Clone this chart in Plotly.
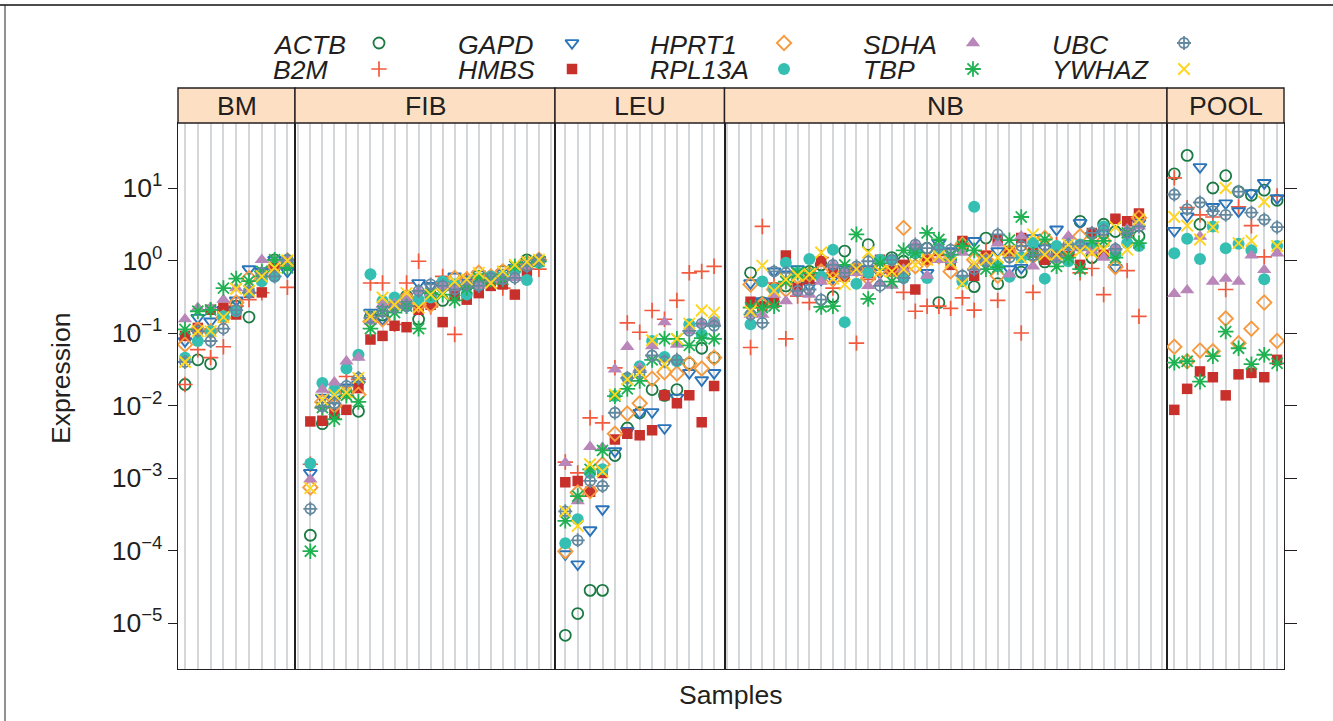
import plotly.graph_objects as go

W, H = 1333, 721
GENES = ["ACTB", "B2M", "GAPD", "HMBS", "HPRT1", "RPL13A", "SDHA", "TBP", "UBC", "YWHAZ"]
TISSUES = ["BM", "FIB", "LEU", "NB", "POOL"]

# All values below are log10(expression).
ACTB_BM = [-1.71, -1.37, -1.425, -0.70, -0.63, -0.78, -0.22, 0.01, -0.055]
B2M_BM = [-1.71, -1.23, -1.34, -1.19, -0.63, -0.54, -0.445, -0.10, -0.37]
GAPD_BM = [-1.11, -0.79, -0.84, -0.68, -0.55, -0.12, -0.15, 0.01, -0.15]
HMBS_BM = [-1.04, -0.93, -0.68, -0.65, -0.745, -0.445, -0.44, -0.10, -0.01]
HPRT1_BM = [-1.16, -0.95, -0.975, -0.79, -0.58, -0.24, -0.22, -0.08, 0.00]
RPL13A_BM = [-1.34, -1.11, -0.975, -0.77, -0.70, -0.42, -0.285, -0.225, 0.01]
SDHA_BM = [-0.81, -0.65, -0.65, -0.54, -0.38, -0.40, 0.01, 0.01, 0.01]
TBP_BM = [-0.95, -0.70, -0.68, -0.38, -0.25, -0.285, -0.15, 0.01, -0.10]
UBC_BM = [-1.40, -0.975, -1.11, -0.94, -0.685, -0.445, -0.17, -0.22, 0.01]
YWHAZ_BM = [-1.40, -0.975, -0.975, -0.78, -0.39, -0.42, -0.22, -0.10, 0.00]

ACTB_FIB = [-3.79, -2.25, -1.99, -1.82, -2.08, -0.78, -0.75, -0.62, -0.49, -0.81, -0.47, -0.55, -0.35, -0.35, -0.26, -0.26, -0.15, -0.12, 0.01, -0.01]
B2M_FIB = [-2.81, -2.03, -1.82, -1.60, -1.64, -0.31, -0.31, -0.88, -0.31, -0.01, -0.64, -0.22, -1.02, -0.26, -0.26, -0.31, -0.38, -0.12, -0.12, -0.12]
GAPD_FIB = [-2.93, -1.89, -1.92, -1.75, -1.71, -0.72, -0.81, -0.62, -0.54, -0.31, -0.35, -0.33, -0.22, -0.26, -0.19, -0.22, -0.17, -0.10, -0.03, 0.01]
HMBS_FIB = [-2.22, -2.21, -2.12, -2.06, -1.76, -1.09, -1.04, -0.90, -0.92, -0.68, -0.61, -0.85, -0.49, -0.54, -0.45, -0.35, -0.33, -0.47, -0.15, -0.01]
HPRT1_FIB = [-3.13, -1.95, -2.0, -1.82, -1.85, -0.84, -0.81, -0.62, -0.51, -0.61, -0.61, -0.33, -0.24, -0.26, -0.17, -0.22, -0.15, -0.12, -0.03, 0.01]
RPL13A_FIB = [-2.80, -1.69, -1.78, -1.49, -1.30, -0.19, -0.56, -0.51, -0.63, -0.54, -0.51, -0.29, -0.33, -0.47, -0.33, -0.22, -0.22, -0.15, -0.27, -0.03]
SDHA_FIB = [-3.02, -1.78, -1.68, -1.39, -1.34, -0.84, -0.61, -0.60, -0.54, -0.42, -0.45, -0.35, -0.38, -0.35, -0.35, -0.26, -0.24, -0.24, -0.08, 0.01]
TBP_FIB = [-4.01, -2.03, -2.19, -1.86, -1.95, -0.94, -0.70, -0.72, -0.63, -0.94, -0.45, -0.47, -0.55, -0.38, -0.24, -0.26, -0.26, -0.08, -0.03, -0.01]
UBC_FIB = [-3.425, -2.01, -1.97, -1.73, -1.62, -0.79, -0.70, -0.65, -0.63, -0.42, -0.33, -0.35, -0.40, -0.33, -0.35, -0.24, -0.26, -0.24, -0.08, 0.01]
YWHAZ_FIB = [-3.14, -1.92, -1.85, -1.82, -1.62, -0.77, -0.51, -0.61, -0.45, -0.65, -0.47, -0.46, -0.29, -0.26, -0.17, -0.31, -0.15, -0.06, -0.02, 0.01]

ACTB_LEU = [-5.17, -4.87, -4.55, -4.55, -2.69, -2.31, -2.10, -1.78, -1.86, -1.78, -1.42, -1.21, -1.34]
B2M_LEU = [-2.78, -2.93, -2.17, -2.24, -1.48, -0.86, -0.99, -0.69, -0.81, -0.55, -0.17, -0.15, -0.08]
GAPD_LEU = [-4.05, -4.19, -3.72, -3.43, -2.63, -2.35, -2.10, -2.09, -2.31, -1.89, -1.55, -1.65, -1.55]
HMBS_LEU = [-3.06, -3.04, -3.19, -2.93, -2.47, -2.39, -2.41, -2.34, -1.86, -1.97, -1.86, -2.23, -1.73]
HPRT1_LEU = [-4.01, -3.20, -3.18, -2.81, -2.39, -2.11, -1.97, -1.63, -1.54, -1.56, -1.42, -1.49, -1.34]
RPL13A_LEU = [-3.90, -3.57, -2.93, -2.88, -1.87, -1.62, -1.46, -1.11, -1.33, -1.39, -0.88, -1.02, -0.85]
SDHA_LEU = [-2.79, -3.32, -2.57, -2.58, -1.50, -1.19, -1.48, -1.18, -0.85, -1.16, -0.97, -0.87, -0.84]
TBP_LEU = [-3.59, -3.25, -2.88, -2.62, -1.87, -1.77, -1.66, -1.37, -1.08, -1.08, -1.17, -1.07, -1.08]
UBC_LEU = [-3.46, -3.86, -3.04, -3.11, -2.10, -1.62, -1.54, -1.31, -1.39, -1.37, -0.97, -0.87, -0.90]
YWHAZ_LEU = [-3.46, -3.66, -2.81, -2.91, -1.85, -1.64, -1.54, -1.10, -1.43, -1.08, -0.87, -0.69, -0.72]

ACTB_NB = [-0.17, -0.58, -0.38, -0.35, -0.26, -0.15, -0.06, -0.50, 0.13, -0.12, 0.22, -0.12, 0.04, -0.01, 0.11, 0.17, -0.58, 0.01, 0.17, -0.36, 0.31, -0.32, 0.11, -0.16, 0.08, -0.02, 0.08, 0.11, 0.54, 0.04, 0.50, 0.40, 0.38, 0.335]
B2M_NB = [-1.20, 0.47, -0.31, -1.08, -0.49, -0.58, 0.04, -0.38, -0.17, -1.14, -0.26, -0.12, -0.17, -0.44, -0.70, -0.63, -0.63, -0.66, -0.515, -0.685, 0.13, -0.55, 0.08, -1.0, -0.44, 0.08, 0.22, 0.08, -0.17, -0.11, -0.47, 0.08, -0.14, -0.77]
GAPD_NB = [-0.31, -0.56, -0.15, -0.19, -0.12, -0.35, -0.26, -0.24, -0.12, -0.12, -0.12, -0.17, -0.12, -0.22, 0.15, -0.17, 0.24, 0.13, 0.20, 0.27, 0.04, 0.13, -0.12, -0.10, 0.31, 0.17, 0.43, 0.11, 0.52, 0.20, 0.36, -0.10, 0.38, 0.52]
HMBS_NB = [-0.57, -0.63, -0.58, 0.07, -0.38, -0.26, -0.01, -0.17, -0.22, -0.12, -0.17, 0.01, -0.15, -0.06, -0.40, 0.01, 0.13, -0.06, 0.27, -0.21, 0.06, 0.29, 0.13, 0.31, 0.11, 0.01, 0.11, 0.06, -0.06, 0.38, 0.08, 0.575, 0.54, 0.65]
HPRT1_NB = [-0.33, -0.61, -0.40, -0.40, -0.22, -0.19, -0.15, -0.26, -0.17, -0.12, -0.24, -0.12, -0.12, 0.45, -0.08, 0.01, 0.06, -0.15, 0.22, 0.01, 0.01, -0.21, 0.11, 0.13, 0.06, 0.31, 0.06, 0.17, 0.335, 0.17, 0.27, -0.09, 0.38, 0.59]
RPL13A_NB = [-0.88, -0.29, -0.40, -0.03, -0.17, 0.02, -0.22, 0.15, -0.85, -0.32, -0.17, 0.01, 0.01, -0.24, 0.11, -0.24, 0.17, 0.01, -0.285, 0.74, -0.01, -0.08, -0.225, 0.04, 0.24, -0.25, 0.20, -0.01, 0.22, 0.17, 0.47, 0.08, 0.24, 0.20]
SDHA_NB = [-0.745, -0.745, -0.47, -0.56, -0.45, -0.47, -0.29, -0.06, -0.17, -0.17, -0.35, -0.31, -0.345, -0.12, 0.22, -0.21, 0.01, 0.01, 0.11, -0.10, -0.01, 0.235, -0.19, 0.335, -0.08, 0.11, 0.01, 0.335, 0.17, 0.13, 0.04, 0.17, 0.43, 0.47]
TBP_NB = [-0.65, -0.65, -0.63, -0.29, -0.17, -0.17, -0.64, -0.63, -0.06, 0.36, -0.53, -0.04, -0.29, 0.14, 0.11, 0.38, 0.29, 0.08, 0.20, 0.14, -0.12, -0.09, 0.28, 0.60, 0.08, 0.29, -0.08, 0.04, -0.12, 0.27, 0.27, 0.04, 0.38, 0.24]
UBC_NB = [-0.745, -0.86, -0.15, -0.17, -0.42, -0.40, -0.54, -0.06, -0.17, -0.08, -0.01, -0.35, 0.01, -0.24, 0.22, 0.17, 0.15, 0.15, -0.21, -0.12, -0.01, 0.36, 0.04, 0.20, 0.07, 0.15, 0.06, 0.22, 0.20, 0.38, 0.42, 0.16, 0.38, 0.47]
YWHAZ_NB = [-0.70, -0.07, -0.42, -0.26, -0.21, -0.19, 0.11, -0.25, -0.33, -0.12, 0.11, -0.15, -0.15, -0.12, -0.06, 0.01, 0.06, -0.03, -0.32, -0.04, 0.01, 0.04, 0.13, 0.04, 0.36, 0.08, 0.08, 0.22, 0.13, 0.11, 0.15, 0.46, 0.15, 0.565]

ACTB_POOL = [1.195, 1.45, 0.50, 1.00, 1.17, 0.95, 0.90, 0.97, 0.83]
B2M_POOL = [1.14, 0.73, 0.63, 0.60, -0.40, 0.74, 0.48, 0.05, 0.89]
GAPD_POOL = [0.41, 0.61, 1.29, 0.74, 0.79, 0.68, 0.93, 1.07, 0.86]
HMBS_POOL = [-2.06, -1.77, -1.53, -1.61, -1.86, -1.57, -1.55, -1.61, -1.37]
HPRT1_POOL = [-1.19, -1.39, -1.24, -1.25, -0.80, -1.14, -0.94, -0.58, -1.11]
RPL13A_POOL = [0.10, 0.30, 0.02, 0.47, 0.17, 0.23, 0.14, -0.26, 0.20]
SDHA_POOL = [-0.46, -0.41, 0.33, -0.29, -0.25, -0.29, 0.07, -0.13, 0.10]
TBP_POOL = [-1.41, -1.39, -1.67, -1.32, -0.98, -1.21, -1.43, -1.30, -1.42]
UBC_POOL = [0.91, 0.71, 0.80, 0.68, 0.63, 0.95, 0.66, 0.565, 0.46]
YWHAZ_POOL = [0.60, 0.48, 0.29, 0.46, 1.00, 0.24, 0.27, 0.81, 0.20]

G = globals()

# ---- styling and layout (pixels of the 1333x721 page) ----
INK = "#231f20"
FONT = "Liberation Sans"
FS = 26.6
STYLE = {
    "ACTB": [("circle-open", 11, 1.8, "#1a7a42")],
    "B2M": [("cross-thin-open", 11, 1.7, "#f15a3c")],
    "GAPD": [("triangle-down-open", 11.5, 1.9, "#2a74bb")],
    "HMBS": [("square", 10.5, 0, "#c8302c")],
    "HPRT1": [("diamond-open", 11, 1.9, "#f79a3e")],
    "RPL13A": [("circle", 12, 0, "#35bfb3")],
    "SDHA": [("triangle-up", 12.5, 0, "#b986ba")],
    "TBP": [("asterisk-open", 13, 1.8, "#1fb152")],
    "UBC": [("circle-open", 10, 1.8, "#64899f"), ("cross-thin-open", 10, 1.8, "#64899f")],
    "YWHAZ": [("x-thin-open", 11.5, 1.9, "#ffd51e")],
}
PANELS = {  # left, right, first slot px, slot spacing, slot count, first data slot
    "BM": (178, 295, 185.0, 12.8, 9, 1),
    "FIB": (295, 555, 298.3, 12.03, 22, 2),
    "LEU": (555, 724.5, 565.3, 12.4, 13, 1),
    "NB": (724.5, 1167, 727.0, 11.77, 38, 3),
    "POOL": (1167, 1284, 1174.3, 12.85, 9, 1),
}
TOP, BOTTOM, STRIP_TOP = 123, 669, 88
Y_RANGE = [1 - (BOTTOM - 188) / 72.5, 1 + (188 - TOP) / 72.5]
DECADES = [-5, -4, -3, -2, -1, 0, 1]
DEC_TEXT = [f"10<sup>{d}</sup>".replace("-", "\u2212") for d in DECADES]


def px(x):
    return x / W


def py(y):
    return 1 - y / H


fig = go.Figure()
layout = {}
shapes, annots = [], []
for i, t in enumerate(TISSUES, start=1):
    left, right, first, sp, n, off = PANELS[t]
    lo = 1 - (first - left) / sp
    hi = lo + (right - left) / sp
    sfx = "" if i == 1 else str(i)
    layout[f"xaxis{sfx}"] = dict(
        domain=[px(left), px(right)], range=[lo, hi], anchor=f"y{sfx}",
        tickvals=list(range(1, n + 1)), showticklabels=False, ticks="",
        showgrid=True, gridcolor="#d3d7d9", gridwidth=2, zeroline=False,
        showline=True, mirror=True, linecolor=INK, linewidth=1.4,
    )
    yax = dict(
        domain=[py(BOTTOM), py(TOP)], type="log", range=Y_RANGE, anchor=f"x{sfx}",
        showgrid=False, zeroline=False, showline=True, mirror=True,
        linecolor=INK, linewidth=1.4, tickvals=[10.0 ** d for d in DECADES],
        ticktext=DEC_TEXT, ticks="", showticklabels=False,
    )
    if t == "BM":
        yax.update(ticks="outside", ticklen=9, tickwidth=1.4, tickcolor=INK, showticklabels=True,
                   tickfont=dict(family=FONT, size=FS, color=INK))
    if t == "POOL":
        yax.update(side="right", ticks="outside", ticklen=12, tickwidth=1.4, tickcolor=INK)
    layout[f"yaxis{sfx}"] = yax
    for g in GENES:
        vals = G[f"{g}_{t}"]
        xs = list(range(off, off + len(vals)))
        for sym, size, lw, col in STYLE[g]:
            fig.add_trace(go.Scatter(
                x=xs, y=[10.0 ** v for v in vals], mode="markers", name=g, showlegend=False,
                xaxis=f"x{sfx}", yaxis=f"y{sfx}",
                marker=dict(symbol=sym, size=size, color=col, line=dict(width=lw, color=col)),
            ))
    shapes.append(dict(type="rect", xref="paper", yref="paper", x0=px(left), x1=px(right),
                       y0=py(TOP), y1=py(STRIP_TOP), fillcolor="#fddfc4",
                       line=dict(color=INK, width=1.4)))
    annots.append(dict(text=t, xref="paper", yref="paper", x=px((left + right) / 2), y=py(106),
                       showarrow=False, font=dict(family=FONT, size=FS, color=INK),
                       xanchor="center", yanchor="middle"))

# key, drawn on a page-sized axis pair
KEY_TEXT_X = {"ACTB": 271, "B2M": 271, "GAPD": 456, "HMBS": 456, "HPRT1": 648, "RPL13A": 648,
              "SDHA": 861, "TBP": 861, "UBC": 1050, "YWHAZ": 1050}
KEY_MARK_X = {"ACTB": 379, "B2M": 379, "GAPD": 572, "HMBS": 572, "HPRT1": 784, "RPL13A": 784,
              "SDHA": 973, "TBP": 973, "UBC": 1184, "YWHAZ": 1184}
KEY_ROW_Y = {0: 45, 1: 70}
layout["xaxis6"] = dict(domain=[0, 1], range=[0, W], visible=False, anchor="y6", fixedrange=True)
layout["yaxis6"] = dict(domain=[0, 1], range=[H, 0], visible=False, anchor="x6", fixedrange=True)
for idx, g in enumerate(GENES):
    ky = KEY_ROW_Y[idx % 2]
    annots.append(dict(text=f"<i>{g}</i>", xref="paper", yref="paper", x=px(KEY_TEXT_X[g]), y=py(ky),
                       showarrow=False, font=dict(family=FONT, size=FS, color=INK),
                       xanchor="left", yanchor="middle"))
    for sym, size, lw, col in STYLE[g]:
        fig.add_trace(go.Scatter(
            x=[KEY_MARK_X[g]], y=[ky - 2 if idx % 2 == 0 else ky - 1], mode="markers", showlegend=False,
            xaxis="x6", yaxis="y6",
            marker=dict(symbol=sym, size=size, color=col, line=dict(width=lw, color=col)),
        ))

annots.append(dict(text="Samples", xref="paper", yref="paper", x=px(731), y=py(695), showarrow=False,
                   font=dict(family=FONT, size=FS, color=INK), xanchor="center", yanchor="middle"))
annots.append(dict(text="Expression", xref="paper", yref="paper", x=px(61), y=py(378), showarrow=False,
                   textangle=-90, font=dict(family=FONT, size=FS, color=INK),
                   xanchor="center", yanchor="middle"))
# thin page frame: top and left rules only
shapes.append(dict(type="line", xref="paper", yref="paper", x0=0, x1=1, y0=py(5), y1=py(5),
                   line=dict(color="#111111", width=1.6)))
shapes.append(dict(type="line", xref="paper", yref="paper", x0=px(5), x1=px(5), y0=0, y1=py(5),
                   line=dict(color="#222222", width=1)))

fig.update_layout(
    width=W, height=H, margin=dict(l=0, r=0, t=0, b=0), autosize=False,
    paper_bgcolor="white", plot_bgcolor="rgba(0,0,0,0)", showlegend=False,
    shapes=shapes, annotations=annots, **layout,
)
fig.write_html("out.html", config={"displayModeBar": False},
               post_script="document.body.style.margin='0';")
